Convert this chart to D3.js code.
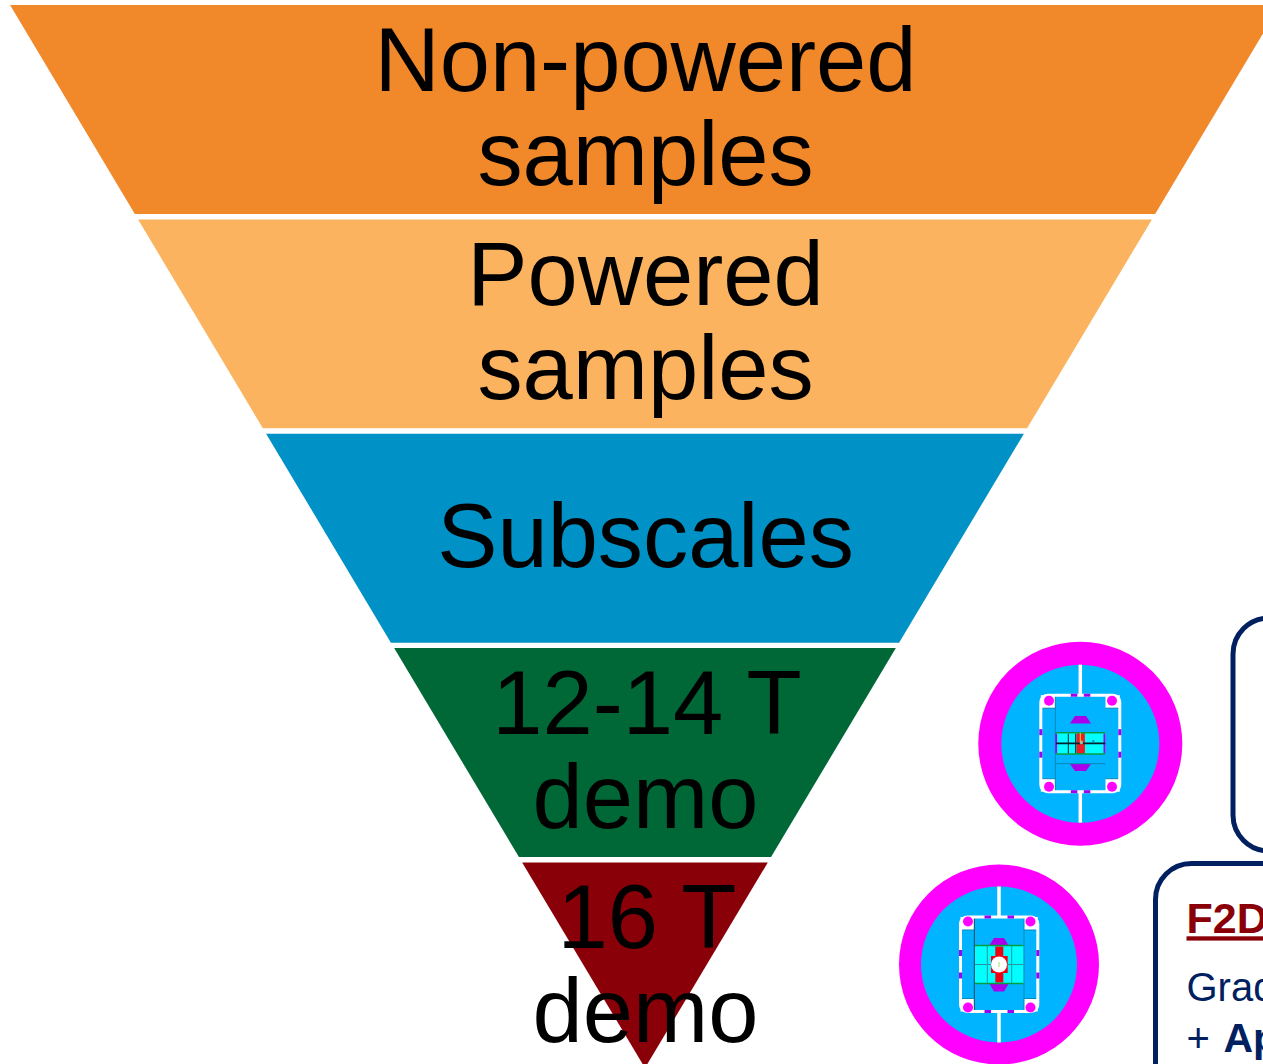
<!DOCTYPE html>
<html>
<head>
<meta charset="utf-8">
<script src="https://cdn.jsdelivr.net/npm/d3@7"></script>
<style>
  html, body { margin: 0; padding: 0; background: #fff; overflow: hidden; }
  svg { display: block; }
  text { font-family: "Liberation Sans", Arial, sans-serif; }
</style>
</head>
<body>
<div id="chart"></div>
<script>
// Funnel levels, top to bottom
const levelLines = [['Non-powered', 'samples'], ['Powered', 'samples'], ['Subscales'], ['12-14 T', 'demo'], ['16 T', 'demo']];
const levelValues = [1, 1, 1, 1, 1];
const levelColors = ['#F1882A', '#FBB35F', '#0091C6', '#006837', '#8A0008'];

const width = 1263;
const height = 1064;

const svg = d3.select('#chart')
    .append('svg')
    .attr('width', width)
    .attr('height', height);

// Y scale: cumulative funnel height. The last level runs past the window
const y = d3.scaleLinear().domain([0, 5]).range([2.4, 1074]);
// Half width of the funnel at a given pixel depth, reaching 0 at the tip
const halfWidth = d3.scaleLinear().domain([5, 1068]).range([635, 0]);
const centerX = 645;
const gap = 5.4;

let cumulative = 0;
const bands = levelValues.map((v, i) => {
    const band = { i, start: cumulative, end: cumulative + v };
    cumulative += v;
    return band;
});

// Trapezoids
svg.selectAll('.level')
    .data(bands)
    .enter()
    .append('path')
    .attr('class', 'level')
    .attr('fill', d => levelColors[d.i])
    .attr('d', d => {
        const top = y(d.start) + gap / 2;
        const bottom = d.i === bands.length - 1 ? 1068 : y(d.end) - gap / 2;
        const wTop = halfWidth(top);
        const wBottom = halfWidth(bottom);
        return d3.line()([
            [centerX - wTop, top],
            [centerX + wTop, top],
            [centerX + wBottom, bottom],
            [centerX - wBottom, bottom]
        ]) + 'Z';
    });

// Level labels
const fontSize = 90.3;
const lineHeight = 94;
svg.selectAll('.level-label')
    .data(bands)
    .enter()
    .append('text')
    .attr('class', 'level-label')
    .attr('text-anchor', 'middle')
    .attr('font-size', fontSize)
    .attr('fill', '#000')
    .each(function (d) {
        const lines = levelLines[d.i];
        const mid = (y(d.start) + y(d.end)) / 2;
        // baseline of first line, block centred on the band
        const first = mid + 28.3 - (lines.length - 1) * lineHeight / 2;
        d3.select(this).selectAll('tspan')
            .data(lines)
            .enter()
            .append('tspan')
            // lines ending in T sit a little right in the reference
            .attr('x', t => centerX + (t.endsWith(' T') ? 2 : 0.5))
            .attr('y', (t, j) => first + j * lineHeight)
            .text(t => t);
    });

// Cross-section drawing of a magnet, in pixels around its centre
function drawMagnet(cx, cy, m) {
    const g = svg.append('g').attr('transform', `translate(${cx},${cy})`);
    const rect = (x0, y0, x1, y1, fill) => g.append('rect')
        .attr('x', x0).attr('y', y0).attr('width', x1 - x0).attr('height', y1 - y0).attr('fill', fill);
    const line = (x0, y0, x1, y1, stroke, w) => g.append('line')
        .attr('x1', x0).attr('y1', y0).attr('x2', x1).attr('y2', y1)
        .attr('stroke', stroke).attr('stroke-width', w);

    g.append('circle').attr('r', m.outer).attr('fill', '#FF00FF');
    g.append('circle').attr('r', m.inner).attr('fill', '#00B4FF');

    // white slots, top and bottom
    line(0, -m.inner, 0, m.top, '#fff', 3.5);
    line(0, m.bottom, 0, m.inner, '#fff', 3.5);

    // white corner pockets
    const pocket = 13;
    [m.left, m.right].forEach((px, a) => [m.top, m.bottom].forEach((py, b) => {
        const x0 = a === 0 ? px : m.blockR;
        const x1 = a === 0 ? m.blockL : px;
        const y0 = b === 0 ? py : py - pocket;
        rect(x0, y0, x1, y0 + pocket, '#fff');
    }));

    // central block
    rect(m.blockL, m.top, m.blockR, m.bottom, '#00B4FF');
    line(m.blockL, m.top, m.blockL, m.bottom, m.blockLine, 1);
    if (m.blockRightLine) line(m.blockR, m.top, m.blockR, m.bottom, '#0A88B8', 1);
    line(m.left, m.top + pocket, m.blockL, m.top + pocket, '#0A88B8', 1);
    line(m.blockR, m.top + pocket, m.right, m.top + pocket, '#0A88B8', 1);
    line(m.left, m.bottom - pocket, m.blockL, m.bottom - pocket, '#0A88B8', 1);
    line(m.blockR, m.bottom - pocket, m.right, m.bottom - pocket, '#0A88B8', 1);

    // collar outline, drawn over the block
    g.append('rect')
        .attr('x', m.left).attr('y', m.top)
        .attr('width', m.right - m.left).attr('height', m.bottom - m.top)
        .attr('rx', 7)
        .attr('fill', 'none').attr('stroke', '#fff').attr('stroke-width', 3);

    // corner rods
    m.rods.forEach(([x, yy]) => {
        g.append('circle').attr('cx', x).attr('cy', yy).attr('r', 5).attr('fill', '#FF00FF');
    });

    // purple tabs on the collar
    m.tabsV.forEach(t => {
        rect(m.left - 1.5, t, m.left + 1.5, t + 6, '#A000F0');
        rect(m.right - 1.5, t, m.right + 1.5, t + 6, '#A000F0');
    });
    m.tabsH.forEach(t => {
        rect(t, m.top - 1.5, t + 6.5, m.top + 1.5, '#A000F0');
        rect(t, m.bottom - 1.5, t + 6.5, m.bottom + 1.5, '#A000F0');
    });

    // purple wedges
    g.append('path').attr('fill', '#AA00EE').attr('d', d3.line()(m.wedgeTop) + 'Z');
    g.append('path').attr('fill', '#AA00EE').attr('d', d3.line()(m.wedgeBottom) + 'Z');

    // coil pack
    rect(m.coil[0], m.coil[1], m.coil[2], m.coil[3], '#00FFFF');
    m.draw(g, rect, line);
}

// Block-coil magnet for the 12-14 T demo
drawMagnet(1080.3, 743.7, {
    outer: 102, inner: 79,
    left: -39.5, right: 39.5, top: -48.5, bottom: 48,
    blockL: -25, blockR: 25, blockLine: '#0A88B8', blockRightLine: false,
    rods: [[-31.3, -43], [31.7, -43], [-31.3, 43], [31.7, 43]],
    tabsV: [-14.5, 8],
    tabsH: [-9.5, 3.5],
    wedgeTop: [[-10.3, -20.3], [-5.3, -27.7], [5.7, -27.7], [10.7, -20.3]],
    wedgeBottom: [[-10.3, 20.3], [-5.3, 27.3], [5.7, 27.3], [10.7, 20.3]],
    coil: [-24.3, -11, 25, 10.3],
    draw(g, rect, line) {
        rect(-25, -10, -23.2, 9.5, '#A000F0');
        rect(23.2, -10, 25, 9.5, '#A000F0');
        rect(-3.8, -10.5, 4.6, 10, '#EE1C25');
        line(-24.3, -0.3, 25, -0.3, '#062030', 1.6);
        line(-12, -10, -12, 10, '#062030', 1);
        line(-4.6, -10, -4.6, 10, '#062030', 1);
        line(-24.3, -11, 25, -11, '#00A040', 1.6);
        line(-24.3, 10.3, 25, 10.3, '#00A040', 1.6);
        line(-25, 20, 25, 20, '#0A88B8', 1);
        line(0, -11, 0, 0, '#E8E020', 1);
        rect(0, -3, 2.5, 0.5, '#90C8B0');
        rect(12, -3.5, 14, -1, '#0A88A8');
    }
});

// Racetrack magnet with round aperture for the 16 T demo
drawMagnet(999, 964.5, {
    outer: 100, inner: 78,
    left: -38.5, right: 38.8, top: -47.5, bottom: 47,
    blockL: -24.7, blockR: 25, blockLine: '#1A4A50', blockRightLine: true,
    rods: [[-31, -43], [31.5, -43], [-31, 43], [31.5, 43]],
    tabsV: [-14.5, 8],
    tabsH: [-14.5, 8.5],
    wedgeTop: [[-9.7, -19], [-5, -26.5], [5, -26.5], [9.7, -19]],
    wedgeBottom: [[-9.7, 19], [-5, 27], [5, 27], [9.7, 19]],
    coil: [-24, -19, 24.3, 19],
    draw(g, rect, line) {
        rect(-3.7, -18, 4.3, 18, '#F00010');
        rect(-8, -8.5, 8.7, 8.5, '#F00010');
        line(-24, 0, 24.3, 0, '#2A90A0', 1);
        line(-11.7, -19, -11.7, 19, '#2A90A0', 1);
        line(12.7, -19, 12.7, 19, '#2A90A0', 1);
        line(-24, -19, 24.3, -19, '#00A040', 1.6);
        line(-24, 19, 24.3, 19, '#00A040', 1.6);
        g.append('circle').attr('r', 8).attr('fill', '#fff');
        line(0, -2.5, 0, 2.5, '#A0E070', 1);
    }
});

// Text boxes running off the right edge
const navy = '#002060';
const boxes = svg.append('g').attr('fill', 'none').attr('stroke', navy).attr('stroke-width', 5);
boxes.append('rect').attr('x', 1233).attr('y', 618).attr('width', 200).attr('height', 233).attr('rx', 36);
boxes.append('rect').attr('x', 1155.5).attr('y', 863.5).attr('width', 300).attr('height', 260).attr('rx', 36);

svg.append('text')
    .attr('x', 1186.5).attr('y', 933.3)
    .attr('font-size', 43).attr('font-weight', 'bold')
    .attr('fill', '#8A0008')
    .style('text-decoration', 'underline')
    .style('text-decoration-thickness', '4.5px')
    .style('text-underline-offset', '4px')
    .text('F2D');
svg.append('text')
    .attr('x', 1186.5).attr('y', 1000.7)
    .attr('font-size', 40).attr('fill', navy)
    .text('Grad');
svg.append('text')
    .attr('x', 1186.5).attr('y', 1051.7)
    .attr('font-size', 40).attr('fill', navy)
    .text('+ ')
    .append('tspan')
    .attr('font-weight', 'bold')
    .attr('font-size', 41)
    .attr('dx', 2.5)
    .text('Ap');
</script>
</body>
</html>
